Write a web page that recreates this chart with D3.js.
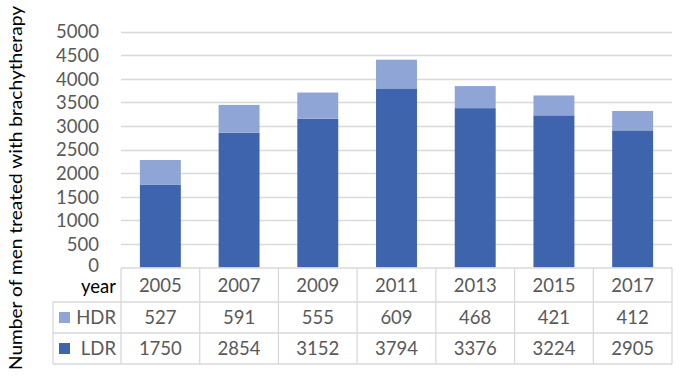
<!DOCTYPE html>
<html><head><meta charset="utf-8">
<script src="https://cdn.jsdelivr.net/npm/d3@7"></script>
<style>body{margin:0;background:#fff}svg{display:block}text{font-family:Lato,sans-serif}</style>
</head><body><svg id="c" width="685" height="376"></svg>
<script>
const years = ["2005","2007","2009","2011","2013","2015","2017"];
const hdr = [527,591,555,609,468,421,412];
const ldr = [1750,2854,3152,3794,3376,3224,2905];
const seriesNames = ["HDR","LDR"];
const yTicks = [0,500,1000,1500,2000,2500,3000,3500,4000,4500,5000];
const yTitle = "Number of men treated with brachytherapy";

const colors = {HDR:"#8fa5d5", LDR:"#3d64ad"};
const svg = d3.select("#c");
const L = 121, R = 672, T = 31.5, B = 267.5;
const x = d3.scaleBand().domain(years).range([L,R]).paddingInner(0.48).paddingOuter(0.24);
const xc = d3.scaleBand().domain(years).range([L,R]);
const y = d3.scaleLinear().domain([0,5000]).range([B,T]);
const grid = "#d9d9d9", txt = "#595959";
const fs = "18.5px";

// gridlines
svg.append("g").selectAll("line").data(yTicks.slice(1)).join("line")
  .attr("x1",L).attr("x2",R).attr("y1",d=>Math.round(y(d))+0.5).attr("y2",d=>Math.round(y(d))+0.5)
  .attr("stroke",grid).attr("stroke-width",1.3);

// y axis labels
const ax = d3.axisLeft(y).tickValues(yTicks).tickFormat(d3.format("d")).tickSize(0).tickPadding(0);
const g = svg.append("g").attr("transform",`translate(99,0)`).call(ax);
g.select(".domain").remove();
g.selectAll("text").attr("fill",txt).style("font-size",fs).style("font-family","Lato,sans-serif")
  .attr("dy",d=>d===0?"0.2em":"0.35em");

// stacked bars
const data = years.map((yr,i)=>({year:yr,LDR:ldr[i],HDR:hdr[i]}));
const stack = d3.stack().keys(["LDR","HDR"])(data);
svg.append("g").selectAll("g").data(stack).join("g").attr("fill",d=>colors[d.key])
  .selectAll("rect").data(d=>d).join("rect")
  .attr("x",d=>x(d.data.year)).attr("width",x.bandwidth())
  .attr("y",d=>y(d[1])).attr("height",d=>y(d[0])-y(d[1]));

// table
const rows = [268, 302, 333, 364];
const tg = svg.append("g").attr("stroke",grid).attr("stroke-width",1.3);
tg.append("line").attr("x1",L).attr("x2",R).attr("y1",rows[0]).attr("y2",rows[0]);
[1,2,3].forEach(k=>tg.append("line").attr("x1",53).attr("x2",R).attr("y1",rows[k]).attr("y2",rows[k]));
tg.append("line").attr("x1",53).attr("x2",53).attr("y1",rows[1]).attr("y2",rows[3]);
tg.selectAll(".v").data(years.concat(["end"])).join("line")
  .attr("x1",(d,i)=>L+i*xc.bandwidth()).attr("x2",(d,i)=>L+i*xc.bandwidth())
  .attr("y1",rows[0]).attr("y2",rows[3]);

const yearY = 286;
svg.append("text").attr("x",116).attr("y",yearY+1).attr("dy","0.35em")
  .attr("text-anchor","end").attr("fill","#000").style("font-size",fs).text("year");
svg.append("g").selectAll("text").data(years).join("text")
  .attr("x",d=>xc(d)+xc.bandwidth()/2).attr("y",yearY).attr("dy","0.35em")
  .attr("text-anchor","middle").attr("fill",txt).style("font-size",fs).text(d=>d);
const rowData = [hdr, ldr];
seriesNames.forEach((s,k)=>{
  const cy = (rows[k+1]+rows[k+2])/2;
  svg.append("rect").attr("x",59).attr("y",cy-5.5).attr("width",11).attr("height",11).attr("fill",colors[s]);
  svg.append("text").attr("x",116).attr("y",cy).attr("dy","0.35em").attr("text-anchor","end")
    .attr("fill",txt).style("font-size",fs).text(s);
  svg.append("g").selectAll("text").data(rowData[k]).join("text")
    .attr("x",(d,i)=>xc(years[i])+xc.bandwidth()/2).attr("y",cy).attr("dy","0.35em")
    .attr("text-anchor","middle").attr("fill",txt).style("font-size",fs).text(d=>d);
});

// y title
svg.append("text").attr("transform","translate(16,188) rotate(-90)").attr("dy","0.35em")
  .attr("text-anchor","middle").attr("fill","#000").style("font-size","18px")
  .attr("textLength",364).attr("lengthAdjust","spacingAndGlyphs").text(yTitle);
</script></body></html>
